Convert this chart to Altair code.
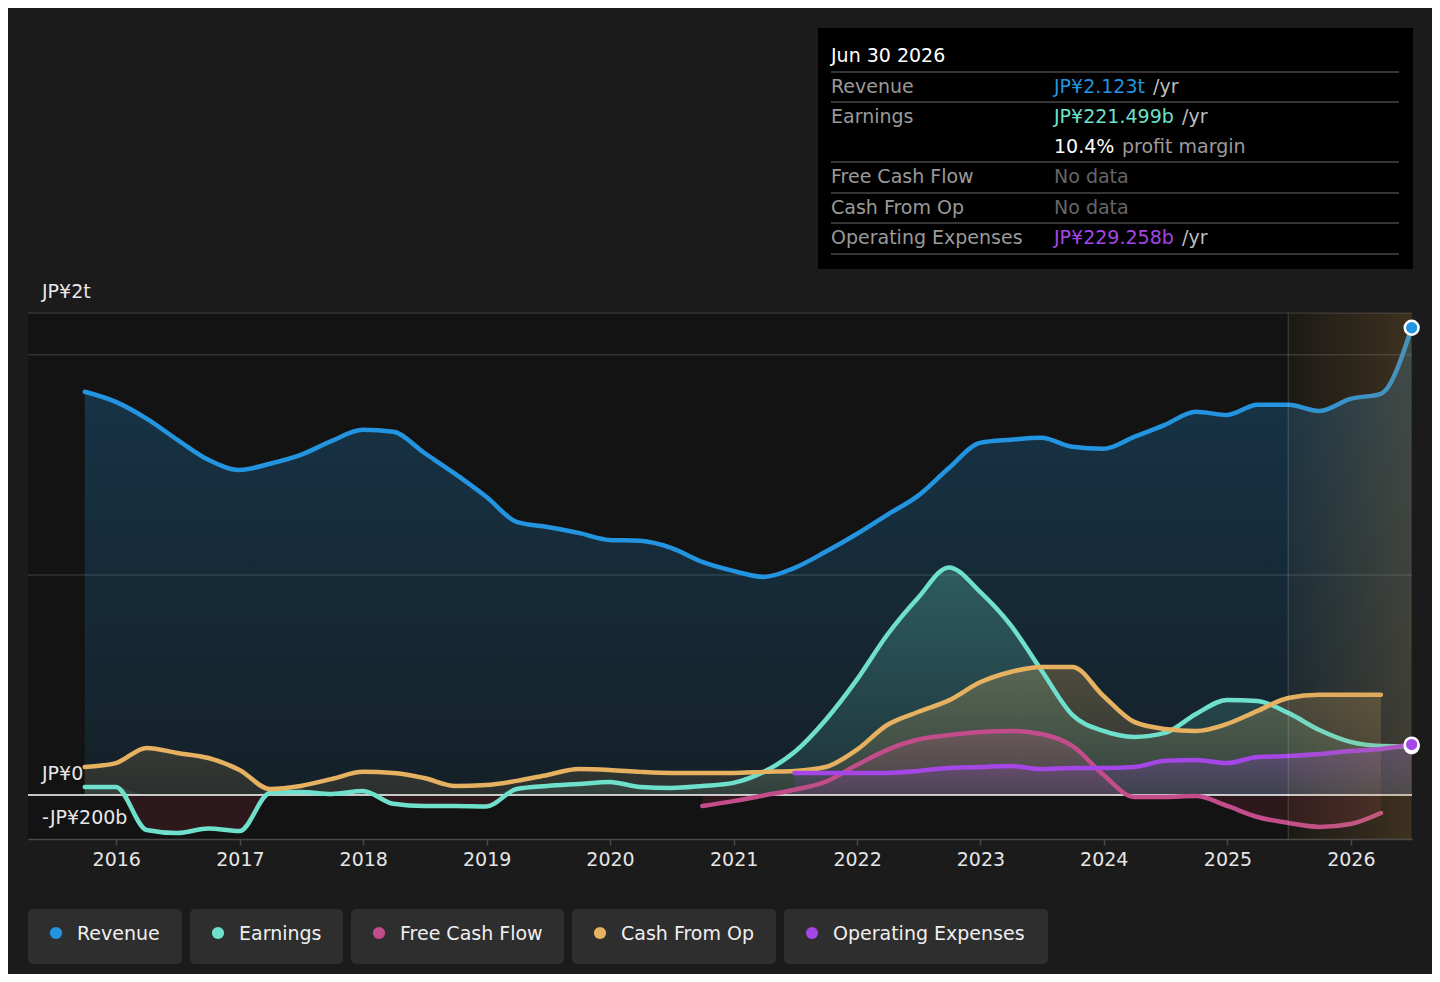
import altair as alt
import pandas as pd

# ---------------- data (values in JP¥ billions) ----------------
dates = [
    "2015-09-30", "2015-12-31",
    "2016-03-31", "2016-06-30", "2016-09-30", "2016-12-31",
    "2017-03-31", "2017-06-30", "2017-09-30", "2017-12-31",
    "2018-03-31", "2018-06-30", "2018-09-30", "2018-12-31",
    "2019-03-31", "2019-06-30", "2019-09-30", "2019-12-31",
    "2020-03-31", "2020-06-30", "2020-09-30", "2020-12-31",
    "2021-03-31", "2021-06-30", "2021-09-30", "2021-12-31",
    "2022-03-31", "2022-06-30", "2022-09-30", "2022-12-31",
    "2023-03-31", "2023-06-30", "2023-09-30", "2023-12-31",
    "2024-03-31", "2024-06-30", "2024-09-30", "2024-12-31",
    "2025-03-31", "2025-06-30", "2025-09-30", "2025-12-31",
    "2026-03-31", "2026-06-30",
]

revenue = [1832, 1786, 1710, 1614, 1523, 1477, 1505, 1545, 1609, 1659,
           1650, 1555, 1459, 1355, 1241, 1218, 1191, 1159, 1155, 1123,
           1059, 1018, 991, 1032, 1105, 1186, 1273, 1359, 1486, 1600,
           1614, 1623, 1582, 1573, 1627, 1682, 1741, 1727, 1773, 1773,
           1745, 1800, 1823, 2123]

earnings = [36, 36, -159, -173, -152, -164, 9, 14, 5, 18,
            -40, -50, -50, -52, 27, 41, 50, 59, 36, 32,
            41, 55, 105, 195, 341, 523, 727, 895, 1034, 923,
            773, 568, 364, 291, 264, 282, 368, 432, 427, 373,
            295, 241, 223, 221.5]

free_cash_flow = [None] * 20 + [
    -50, -28, -2, 24, 60, 136, 205, 252, 272, 286,
    291, 277, 223, 92, -9, -9, -5, -50, -100, -127,
    -145, -132, -82, None]

cash_from_op = [127, 145, 214, 191, 168, 114, 27, 41, 73, 105,
                100, 77, 41, 45, 64, 91, 118, 114, 105, 100,
                100, 100, 105, 109, 127, 205, 318, 377, 430, 512,
                559, 582, 582, 450, 332, 300, 291, 323, 382, 441,
                455, 455, 455, None]

operating_expenses = [None] * 23 + [
    100, 100, 100, 100, 109, 123, 127, 132, 118, 123,
    123, 127, 155, 159, 145, 173, 177, 186, 200, 209,
    229.3]

series_names = ["Revenue", "Earnings", "Free Cash Flow", "Cash From Op", "Operating Expenses"]
series_values = [revenue, earnings, free_cash_flow, cash_from_op, operating_expenses]
series_colors = ["#2394df", "#6ee0cb", "#c24d8a", "#e6b160", "#a546e6"]
series_rgb = ["35,148,223", "110,224,203", "194,77,138", "230,177,96", "165,70,230"]

years = [2016, 2017, 2018, 2019, 2020, 2021, 2022, 2023, 2024, 2025, 2026]
y_label_values = [2190, 0, -200]
y_label_texts = ["JP¥2t", "JP¥0", "-JP¥200b"]
grid_values = [1000, 2000, 2190]

forecast_start = "2025-06-30"
forecast_end = "2026-06-30"

tooltip_title = "Jun 30 2026"
tooltip_labels = ["Revenue", "Earnings", "", "Free Cash Flow", "Cash From Op", "Operating Expenses"]
tooltip_values = ["JP¥2.123t", "JP¥221.499b", "10.4%", "No data", "No data", "JP¥229.258b"]
tooltip_suffix = ["/yr", "/yr", "profit margin", "", "", "/yr"]

# ---------------- layout ----------------
W, H = 1384, 526
FONT = "DejaVu Sans"

x_scale = alt.Scale(type="utc", domain=[
    alt.DateTime(year=2015, month=4, date=15, utc=True),
    alt.DateTime(year=2026, month=7, date=1, utc=True)])
y_scale = alt.Scale(domain=[-200, 2190], nice=False, zero=False)

x_axis = alt.Axis(
    values=[alt.DateTime(year=y, month=1, date=1, utc=True) for y in years],
    labelExpr="utcFormat(datum.value, '%Y')",
    labelColor="#e6e6e6", labelFontSize=19, labelFont=FONT, labelPadding=5,
    labelFlush=False, domainColor="#4a4a4a", domainWidth=1.5,
    tickColor="#4a4a4a", tickSize=6, tickWidth=1.5, grid=False, title=None)

X = alt.X("date:T", scale=x_scale, axis=x_axis)


def series_df(vals):
    rows = [{"date": d, "value": v} for d, v in zip(dates, vals) if v is not None]
    return pd.DataFrame(rows)


layers = []

# gridlines
grid_df = pd.DataFrame({"v": grid_values})
layers.append(alt.Chart(grid_df).mark_rule(color="#333333", strokeWidth=1.5).encode(
    y=alt.Y("v:Q", scale=y_scale, axis=None)))

# areas
for name, vals, rgb in zip(series_names, series_values, series_rgb):
    df = series_df(vals)
    base = alt.Chart(df).transform_calculate(
        pos="max(datum.value, 0)", neg="min(datum.value, 0)")
    grad = alt.LinearGradient(
        gradient="linear",
        stops=[alt.GradientStop(color=f"rgba({rgb},0.27)", offset=0),
               alt.GradientStop(color=f"rgba({rgb},0.10)", offset=1)],
        x1=0, x2=0, y1=0, y2=1)
    layers.append(base.mark_area(color=grad, interpolate="monotone").encode(
        x=X, y=alt.Y("pos:Q", scale=y_scale, axis=None), y2=alt.Y2Datum(0)))
    layers.append(base.mark_area(color="rgba(224,64,90,0.13)", interpolate="monotone").encode(
        x=X, y=alt.Y("neg:Q", scale=y_scale, axis=None), y2=alt.Y2Datum(0)))

# zero line
zero_df = pd.DataFrame({"v": [0]})
layers.append(alt.Chart(zero_df).mark_rule(color="#ffffff", strokeWidth=1.5).encode(
    y=alt.Y("v:Q", scale=y_scale, axis=None)))

# lines
for name, vals, col in zip(series_names, series_values, series_colors):
    df = series_df(vals)
    layers.append(alt.Chart(df).mark_line(
        color=col, strokeWidth=4.5, interpolate="monotone", strokeCap="round", strokeJoin="round").encode(
        x=X, y=alt.Y("value:Q", scale=y_scale, axis=None)))

# forecast overlay
fc_df = pd.DataFrame({"start": [forecast_start], "end": [forecast_end]})
fc_grad = alt.LinearGradient(
    gradient="linear",
    stops=[alt.GradientStop(color="rgba(190,140,70,0.05)", offset=0),
           alt.GradientStop(color="rgba(190,140,70,0.25)", offset=1)],
    x1=0, x2=1, y1=0, y2=0)
layers.append(alt.Chart(fc_df).mark_rect(color=fc_grad).encode(
    x=alt.X("start:T", scale=x_scale, axis=x_axis), x2="end:T",
    y=alt.value(0), y2=alt.value(H)))
layers.append(alt.Chart(fc_df).mark_rule(color="rgba(255,255,255,0.13)", strokeWidth=1.5).encode(
    x=alt.X("start:T", scale=x_scale, axis=x_axis), y=alt.value(0), y2=alt.value(H)))

# end points (drawn in row order: operating expenses last, on top)
end_df = pd.DataFrame({
    "date": [dates[-1]] * 3,
    "value": [revenue[-1], earnings[-1], operating_expenses[-1]],
    "series": ["Revenue", "Earnings", "Operating Expenses"],
    "k": [0, 1, 2],
})
layers.append(alt.Chart(end_df).mark_circle(size=190, opacity=1, stroke="#ffffff", strokeWidth=2.5).encode(
    x=X, y=alt.Y("value:Q", scale=y_scale, axis=None),
    color=alt.Color("series:N", scale=alt.Scale(domain=series_names, range=series_colors), legend=None),
    order=alt.Order("k:Q")))

# y labels
ylab_df = pd.DataFrame({"v": y_label_values, "t": y_label_texts})
layers.append(alt.Chart(ylab_df).mark_text(
    align="left", baseline="alphabetic", dy=-15, fontSize=19, font=FONT, color="#e8e8e8").encode(
    x=alt.value(14), y=alt.Y("v:Q", scale=y_scale, axis=None), text="t:N"))

# ---------------- decorations: tooltip & legend ----------------
dummy = pd.DataFrame({"a": [0]})


def txt(x, y, s, color, size=19):
    return alt.Chart(dummy).mark_text(
        text=s, align="left", baseline="middle", fontSize=size, font=FONT, color=color).encode(
        x=alt.value(x), y=alt.value(y))


def box(x0, x1, y0, y1, color, radius=0):
    return alt.Chart(dummy).mark_rect(color=color, cornerRadius=radius).encode(
        x=alt.value(x0), x2=alt.value(x1), y=alt.value(y0), y2=alt.value(y1))


def hline(x0, x1, y, color, w=1.5):
    return alt.Chart(dummy).mark_rule(color=color, strokeWidth=w).encode(
        x=alt.value(x0), x2=alt.value(x1), y=alt.value(y))


# tooltip box
layers.append(box(790, 1385, -285, -44, "#000000"))
layers.append(txt(803, -257, tooltip_title, "#ffffff"))
for yy in [-241, -211, -151, -120, -90, -59]:
    layers.append(hline(803, 1371, yy, "#474747"))
row_y = [-226, -196, -166, -136, -105, -75]
value_colors = ["#2394df", "#6ee0cb", "#ffffff", "#666666", "#666666", "#a546e6"]
suffix_x = [1125, 1154, 1094, 0, 0, 1154]
suffix_colors = ["#bdbdbd", "#bdbdbd", "#9a9a9a", "#9a9a9a", "#9a9a9a", "#bdbdbd"]
for i in range(6):
    if tooltip_labels[i]:
        layers.append(txt(803, row_y[i], tooltip_labels[i], "#9a9a9a"))
    layers.append(txt(1026, row_y[i], tooltip_values[i], value_colors[i]))
    if tooltip_suffix[i]:
        layers.append(txt(suffix_x[i], row_y[i], tooltip_suffix[i], suffix_colors[i]))

# legend
legend_boxes = [(0, 154), (162, 315), (323, 536), (544, 748), (756, 1020)]
for (x0, x1), name, col in zip(legend_boxes, series_names, series_colors):
    layers.append(box(x0, x1, 596, 651, "#2e2e2e", radius=5))
    layers.append(alt.Chart(dummy).mark_circle(size=150, color=col, opacity=1).encode(
        x=alt.value(x0 + 28), y=alt.value(620)))
    layers.append(txt(x0 + 49, 621, name, "#f0f0f0"))

chart = alt.layer(*layers).properties(
    width=W, height=H,
    autosize=alt.AutoSizeParams(type="none"),
    padding={"left": 20, "top": 305, "right": 20, "bottom": 135},
    background="#1b1b1b",
).configure(font=FONT).configure_view(stroke=None, fill="#131313")

chart.save("out.html", embed_options={"renderer": "svg", "actions": False})
